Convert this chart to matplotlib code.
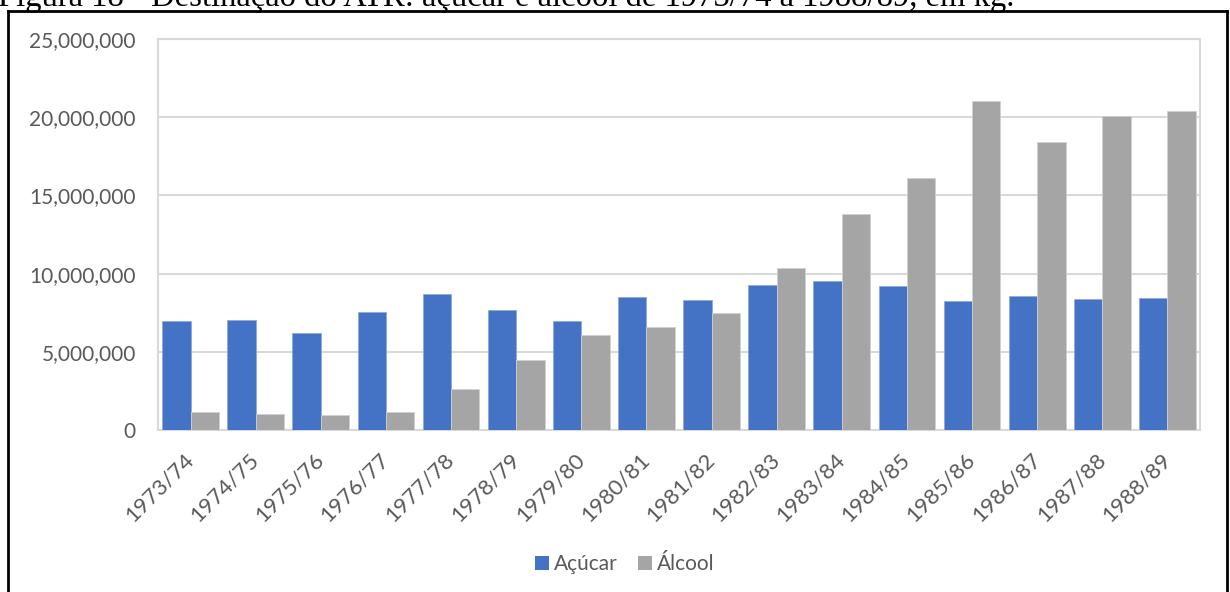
import matplotlib
matplotlib.use("Agg")
import matplotlib.pyplot as plt
import numpy as np
from matplotlib.lines import Line2D
from matplotlib.patches import Patch
from matplotlib.ticker import FuncFormatter

# ---- data ----
safras = ["1973/74", "1974/75", "1975/76", "1976/77", "1977/78", "1978/79",
          "1979/80", "1980/81", "1981/82", "1982/83", "1983/84", "1984/85",
          "1985/86", "1986/87", "1987/88", "1988/89"]
acucar = [7.00e6, 7.03e6, 6.18e6, 7.54e6, 8.70e6, 7.67e6, 6.94e6, 8.50e6,
          8.33e6, 9.27e6, 9.52e6, 9.23e6, 8.22e6, 8.55e6, 8.37e6, 8.47e6]
alcool = [1.15e6, 1.04e6, 0.96e6, 1.15e6, 2.60e6, 4.48e6, 6.07e6, 6.57e6,
          7.46e6, 10.38e6, 13.84e6, 16.13e6, 21.02e6, 18.43e6, 20.08e6, 20.40e6]
series_names = ["Açúcar", "Álcool"]
yticks = [0, 5e6, 10e6, 15e6, 20e6, 25e6]
title = "Figura 18 - Destinação do ATR: açúcar e álcool de 1973/74 a 1988/89, em kg."

# ---- style ----
W, H, DPI = 1230, 592, 100
BLUE, GREY = "#4472C4", "#A5A5A5"
TXT = "#595959"
GRID = "#D9D9D9"
FONT = ["Lato", "DejaVu Sans"]

fig = plt.figure(figsize=(W / DPI, H / DPI), dpi=DPI)
fig.patch.set_facecolor("white")

ax = fig.add_axes([158 / W, 1 - 430 / H, (1200 - 158) / W, (430 - 39) / H])

x = np.arange(len(safras))
bw = 0.435
ax.bar(x - bw / 2, acucar, width=bw, color=BLUE, edgecolor="#8EA9DB", linewidth=0.6, zorder=3)
ax.bar(x + bw / 2, alcool, width=bw, color=GREY, edgecolor="#D0D0D0", linewidth=0.6, zorder=3)

ax.set_xlim(-0.5, len(safras) - 0.5)
ax.set_ylim(0, 25e6)
ax.set_yticks(yticks)
ax.yaxis.set_major_formatter(FuncFormatter(lambda v, p: f"{int(v):,}"))
ax.grid(axis="y", color=GRID, linewidth=1.5, zorder=0)
for s in ax.spines.values():
    s.set_color(GRID)
    s.set_linewidth(1.5)
ax.tick_params(axis="both", length=0, labelcolor=TXT)
ax.tick_params(axis="y", pad=16, labelsize=15)
ax.set_xticks(x)
ax.set_xticklabels(safras, rotation=45, ha="right", va="center",
                   rotation_mode="anchor", family=FONT, fontsize=16)
ax.tick_params(axis="x", pad=19)
for lab in ax.get_yticklabels():
    lab.set_family(FONT)

# legend
handles = [Patch(facecolor=BLUE, edgecolor="none"), Patch(facecolor=GREY, edgecolor="none")]
leg = fig.legend(handles, series_names, loc="center", bbox_to_anchor=(625 / W, 1 - 564 / H),
                 ncol=2, frameon=False, prop={"family": FONT, "size": 15},
                 handlelength=0.65, handleheight=0.65, handletextpad=0.25,
                 columnspacing=1.0)
for t in leg.get_texts():
    t.set_color(TXT)

# outer black frame (bottom is beyond the image)
fig.add_artist(Line2D([8 / W, 1227 / W], [1 - 11 / H, 1 - 11 / H], color="black", lw=2))
fig.add_artist(Line2D([8 / W, 8 / W], [1 - 11 / H, -0.05], color="black", lw=2))
fig.add_artist(Line2D([1227 / W, 1227 / W], [1 - 11 / H, -0.05], color="black", lw=2))

# caption, clipped at the very top as in the source image
fig.text(-2 / W, 1 - 6 / H, title, ha="left", va="baseline",
         family=["Liberation Serif", "DejaVu Serif"], fontweight="normal",
         fontsize=23.5, color="black")

fig.savefig("out.png", dpi=DPI)
